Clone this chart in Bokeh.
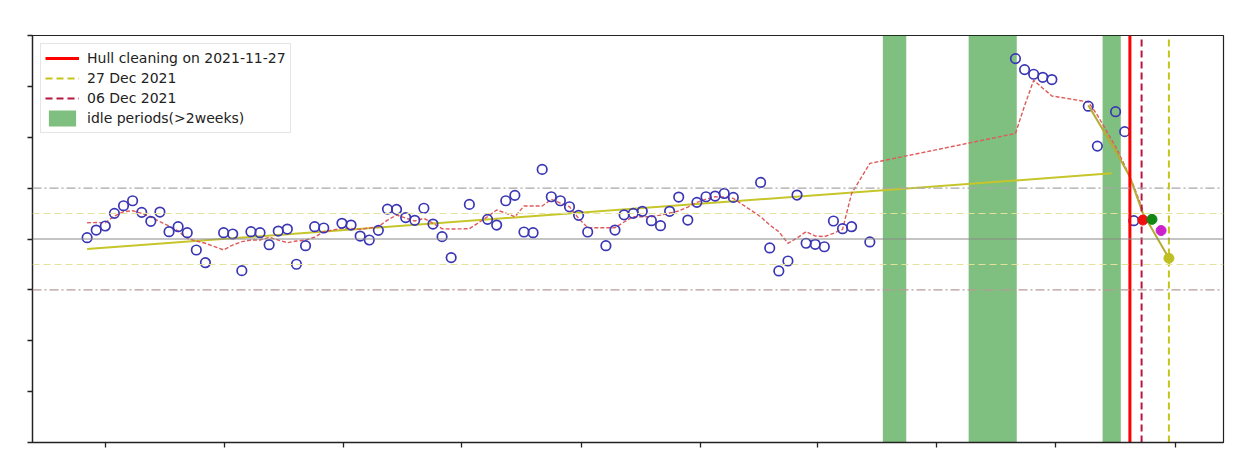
from datetime import datetime
import pandas as pd
from bokeh.plotting import figure
from bokeh.models import FixedTicker, Legend, LegendItem, Range1d, Span, CustomJSTickFormatter
from bokeh.embed import file_html
from bokeh.resources import INLINE

# ---------------- data ----------------
obs_dates = [
    "2019-09-17", "2019-09-24", "2019-10-01", "2019-10-08", "2019-10-15", "2019-10-22",
    "2019-10-29", "2019-11-05", "2019-11-12", "2019-11-19", "2019-11-26", "2019-12-03",
    "2019-12-10", "2019-12-17", "2019-12-31", "2020-01-07", "2020-01-14", "2020-01-21",
    "2020-01-28", "2020-02-04", "2020-02-11", "2020-02-18", "2020-02-25", "2020-03-03",
    "2020-03-10", "2020-03-17", "2020-03-31", "2020-04-07", "2020-04-14", "2020-04-21",
    "2020-04-28", "2020-05-05", "2020-05-12", "2020-05-19", "2020-05-26", "2020-06-02",
    "2020-06-09", "2020-06-16", "2020-06-23", "2020-07-07", "2020-07-21", "2020-07-28",
    "2020-08-04", "2020-08-11", "2020-08-18", "2020-08-25", "2020-09-01", "2020-09-08",
    "2020-09-15", "2020-09-22", "2020-09-29", "2020-10-06", "2020-10-20", "2020-10-27",
    "2020-11-03", "2020-11-10", "2020-11-17", "2020-11-24", "2020-12-01", "2020-12-08",
    "2020-12-15", "2020-12-22", "2020-12-29", "2021-01-05", "2021-01-12", "2021-01-19",
    "2021-01-26", "2021-02-16", "2021-02-23", "2021-03-02", "2021-03-09", "2021-03-16",
    "2021-03-23", "2021-03-30", "2021-04-06", "2021-04-13", "2021-04-20", "2021-04-27",
    "2021-05-11", "2021-08-31", "2021-09-07", "2021-09-14", "2021-09-21", "2021-09-28",
    "2021-10-26", "2021-11-02", "2021-11-16", "2021-11-23", "2021-11-30",
]
obs_values = [
    0.13, 0.88, 1.28, 2.52, 3.27, 3.76, 2.62, 1.74, 2.65, 0.72, 1.21, 0.62,
    -1.08, -2.33, 0.62, 0.49, -3.11, 0.72, 0.62, -0.56, 0.78, 0.98, -2.48, -0.66,
    1.21, 1.08, 1.54, 1.37, 0.29, -0.10, 0.85, 2.94, 2.91, 2.11, 1.84, 3.02,
    1.47, 0.23, -1.83, 3.40, 1.93, 1.37, 3.76, 4.29, 0.69, 0.62, 6.84, 4.15,
    3.76, 3.17, 2.33, 0.69, -0.66, 0.88, 2.38, 2.52, 2.72, 1.80, 1.31, 2.72,
    4.12, 1.86, 3.60, 4.15, 4.22, 4.48, 4.09, 5.56, -0.88, -3.14, -2.16, 4.32,
    -0.42, -0.52, -0.76, 1.77, 1.01, 1.21, -0.29, 17.73, 16.65, 16.19, 15.89, 15.67,
    13.05, 9.13, 12.51, 10.55, 1.80,
]

roll_dates = obs_dates + ["2021-12-07"]
roll_values = [
    1.60, 1.62, 1.60, 2.26, 2.68, 2.78, 2.52, 2.16, 1.70, 1.28, 0.78, 0.07,
    -0.20, -0.42, -1.08, -0.59, -0.26, -0.10, -0.10, 0.17, -0.10, -0.36, -0.20, -0.10,
    0.17, 0.72, 1.05, 1.03, 0.95, 1.08, 1.21, 1.86, 2.35, 2.06, 1.77, 2.03,
    1.54, 1.01, 0.98, 1.01, 2.19, 2.85, 2.55, 2.19, 3.24, 3.24, 3.24, 3.90,
    3.53, 3.17, 2.03, 1.11, 1.11, 1.11, 1.67, 2.19, 2.19, 2.19, 2.35, 2.55,
    2.75, 3.14, 3.60, 3.92, 4.15, 4.12, 3.99, 2.19, 1.37, 0.72, -0.42, 0.10,
    0.72, 0.29, 0.23, 0.56, 0.95, 4.48, 7.43, 10.37, 13.10, 15.60, 14.82, 14.06,
    13.47, 12.17, 9.07, 7.24, 5.18, 2.85,
]

trend_dates = ["2019-09-17", "2021-11-13"]
trend_values = [-0.98, 6.45]

proj_dates = ["2021-10-26", "2021-11-16", "2021-11-27", "2021-12-07", "2021-12-27"]
proj_values = [13.15, 8.66, 6.11, 2.52, -1.89]

dot_dates = ["2021-12-07", "2021-12-14", "2021-12-21", "2021-12-27"]
dot_values = [1.86, 1.93, 0.83, -1.89]
dot_colors = ["#ee1111", "#118811", "#cc22cc", "#bfbf22"]

idle_starts = ["2021-05-21", "2021-07-26", "2021-11-06"]
idle_ends = ["2021-06-08", "2021-09-01", "2021-11-20"]

hull_cleaning = "2021-11-27"
date_dec06 = "2021-12-06"
date_dec27 = "2021-12-27"

legend_labels = ["Hull cleaning on 2021-11-27", "27 Dec 2021", "06 Dec 2021", "idle periods(>2weeks)"]

x_ticks = ["2019-10-01", "2020-01-01", "2020-04-01", "2020-07-01", "2020-10-01",
           "2021-01-01", "2021-04-01", "2021-07-01", "2021-10-01", "2022-01-01"]
y_ticks = [-20, -15, -10, -5, 0, 5, 10, 15, 20]
Y_MIN, Y_MAX = -20, 20
X_START, X_END = "2019-08-06", "2022-02-07"
band_outer = 5
band_inner = 2.5


def dt(s):
    return pd.to_datetime(s)


def ms(s):
    return pd.Timestamp(s).value / 1e6


# ---------------- figure ----------------
p = figure(width=1237, height=458, output_backend="svg", toolbar_location=None,
           x_axis_type="datetime",
           x_range=Range1d(dt(X_START), dt(X_END)),
           y_range=Range1d(Y_MIN, Y_MAX),
           min_border_left=32, min_border_right=14, min_border_top=35, min_border_bottom=16)
p.background_fill_color = "white"
p.border_fill_color = "white"
p.outline_line_color = "#222222"
p.outline_line_width = 1.2
p.grid.visible = False

blank = CustomJSTickFormatter(code="return '';")
for ax in (p.xaxis[0], p.yaxis[0]):
    ax.axis_line_color = "#222222"
    ax.axis_line_width = 1.3
    ax.major_tick_line_color = "#222222"
    ax.major_tick_line_width = 1.3
    ax.major_tick_out = 5
    ax.major_tick_in = 0
    ax.minor_tick_line_color = None
    ax.formatter = blank
    ax.major_label_standoff = 0

p.xaxis[0].ticker = FixedTicker(ticks=[ms(t) for t in x_ticks])
p.yaxis[0].ticker = FixedTicker(ticks=y_ticks)

# idle bands
idle_r = p.quad(left=[dt(s) for s in idle_starts], right=[dt(e) for e in idle_ends],
                bottom=Y_MIN, top=Y_MAX, fill_color="green", fill_alpha=0.5, line_color=None)

# horizontal reference lines
p.add_layout(Span(location=band_outer, dimension="width", line_color="#a8a8a8",
                  line_dash="9 3 2 3", line_width=1.1))
p.add_layout(Span(location=-band_outer, dimension="width", line_color="#b89a9a",
                  line_dash="9 3 2 3", line_width=1.1))
p.add_layout(Span(location=band_inner, dimension="width", line_color="#e2e29a",
                  line_dash="7 4", line_width=1.1))
p.add_layout(Span(location=-band_inner, dimension="width", line_color="#e2e29a",
                  line_dash="7 4", line_width=1.1))
p.add_layout(Span(location=0, dimension="width", line_color="#8a8a8a", line_width=1.1))

# trend line
p.line([dt(d) for d in trend_dates], trend_values, line_color="#c6c62a", line_width=2)

# rolling mean
p.line([dt(d) for d in roll_dates], roll_values, line_color="#e05a5a", line_width=1.4,
       line_dash="4 2")

# observations
p.scatter([dt(d) for d in obs_dates], obs_values, marker="circle", size=9.5,
          fill_color=None, line_color="#3a36b4", line_width=1.7)

# projection
p.line([dt(d) for d in proj_dates], proj_values, line_color="#b4ac34", line_width=2)

# vertical event lines
hull_r = p.segment(x0=[dt(hull_cleaning)], x1=[dt(hull_cleaning)], y0=[Y_MIN], y1=[Y_MAX],
                   line_color="#ff0000", line_width=3)
dec27_r = p.segment(x0=[dt(date_dec27)], x1=[dt(date_dec27)], y0=[Y_MIN], y1=[Y_MAX],
                    line_color="#c4c41a", line_width=2, line_dash="7 4")
dec06_r = p.segment(x0=[dt(date_dec06)], x1=[dt(date_dec06)], y0=[Y_MIN], y1=[Y_MAX],
                    line_color="#b8163e", line_width=2, line_dash="7 4")

# predicted dots
p.scatter([dt(d) for d in dot_dates], dot_values, marker="circle", size=10,
          fill_color=dot_colors, line_color=dot_colors)

legend = Legend(items=[
    LegendItem(label=legend_labels[0], renderers=[hull_r]),
    LegendItem(label=legend_labels[1], renderers=[dec27_r]),
    LegendItem(label=legend_labels[2], renderers=[dec06_r]),
    LegendItem(label=legend_labels[3], renderers=[idle_r]),
], location="top_left")
legend.margin = 8
legend.padding = 4
legend.spacing = 0
legend.label_height = 20
legend.glyph_height = 20
legend.glyph_width = 34
legend.label_standoff = 8
legend.label_text_font = "DejaVu Sans"
legend.label_text_font_size = "14px"
legend.label_text_color = "#222222"
legend.border_line_color = "#cccccc"
legend.border_line_width = 1
legend.background_fill_color = "white"
legend.background_fill_alpha = 0.85
p.add_layout(legend)

open("out.html", "w").write(file_html(p, INLINE))
